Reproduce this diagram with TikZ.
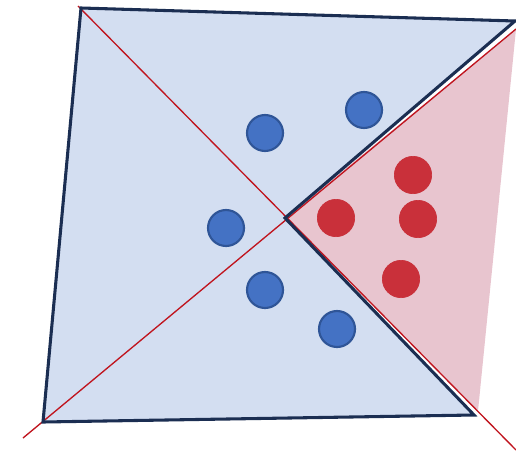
\documentclass[tikz,border=0pt]{standalone}
\usepackage{tikz}
\usetikzlibrary{positioning, calc}

\definecolor{bgblue}{HTML}{D3DEF1}
\definecolor{bgpink}{HTML}{E8C5CF}
\definecolor{navy}{HTML}{1B2E52}
\definecolor{cutred}{HTML}{C0141E}
\definecolor{dotblue}{HTML}{4472C4}
\definecolor{dotblueline}{HTML}{2F5597}
\definecolor{dotred}{HTML}{C9303A}
\definecolor{dotredline}{HTML}{B8293A}

\begin{document}
\begin{tikzpicture}[x=0.75pt, y=-0.75pt,
    bluept/.style={draw=dotblueline, circle, fill=dotblue, line width=1.6pt, minimum size=27pt, inner sep=0pt},
    redpt/.style={draw=dotred, circle, fill=dotred, line width=0.5pt, minimum size=28pt, inner sep=0pt}]
                \useasboundingbox (0,0) rectangle (516,456);
                % corners of the region and the cut lines
                \coordinate (tl) at (81,8);
                \coordinate (tr) at (515,21);
                \coordinate (mid) at (285,218);
                \coordinate (br) at (474,415);
                \coordinate (bl) at (43,422);
                \coordinate (ua) at (78,6);
                \coordinate (ub) at (516,450);
                \coordinate (va) at (23,438);
                \coordinate (vb) at (516,29);
                \coordinate (pb) at (478,411);
                
                \fill[bgblue] (tl) -- (tr) -- (mid) -- (br) -- (bl) -- cycle;
                \fill[bgpink] (mid) -- (vb) -- (pb) -- cycle;
                
                \draw[cutred, line width=1pt] (ua) -- (ub);
                \draw[cutred, line width=1pt] (va) -- (vb);
                
                \draw[navy, line width=2.3pt, line join=miter] (tl) -- (tr) -- (mid) -- (br) -- (bl) -- cycle;
                
                \node[bluept] (b1) at (265,133) {};
                \node[bluept] (b2) at (364,110) {};
                \node[bluept] (b3) at (226,228) {};
                \node[bluept] (b4) at (265,290) {};
                \node[bluept] (b5) at (337,329) {};
                
                \node[redpt] (r1) at (413,175) {};
                \node[redpt] (r2) at (336,218) {};
                \node[redpt] (r3) at (418,219) {};
                \node[redpt] (r4) at (401,279) {};
            \end{tikzpicture}
\end{document}
